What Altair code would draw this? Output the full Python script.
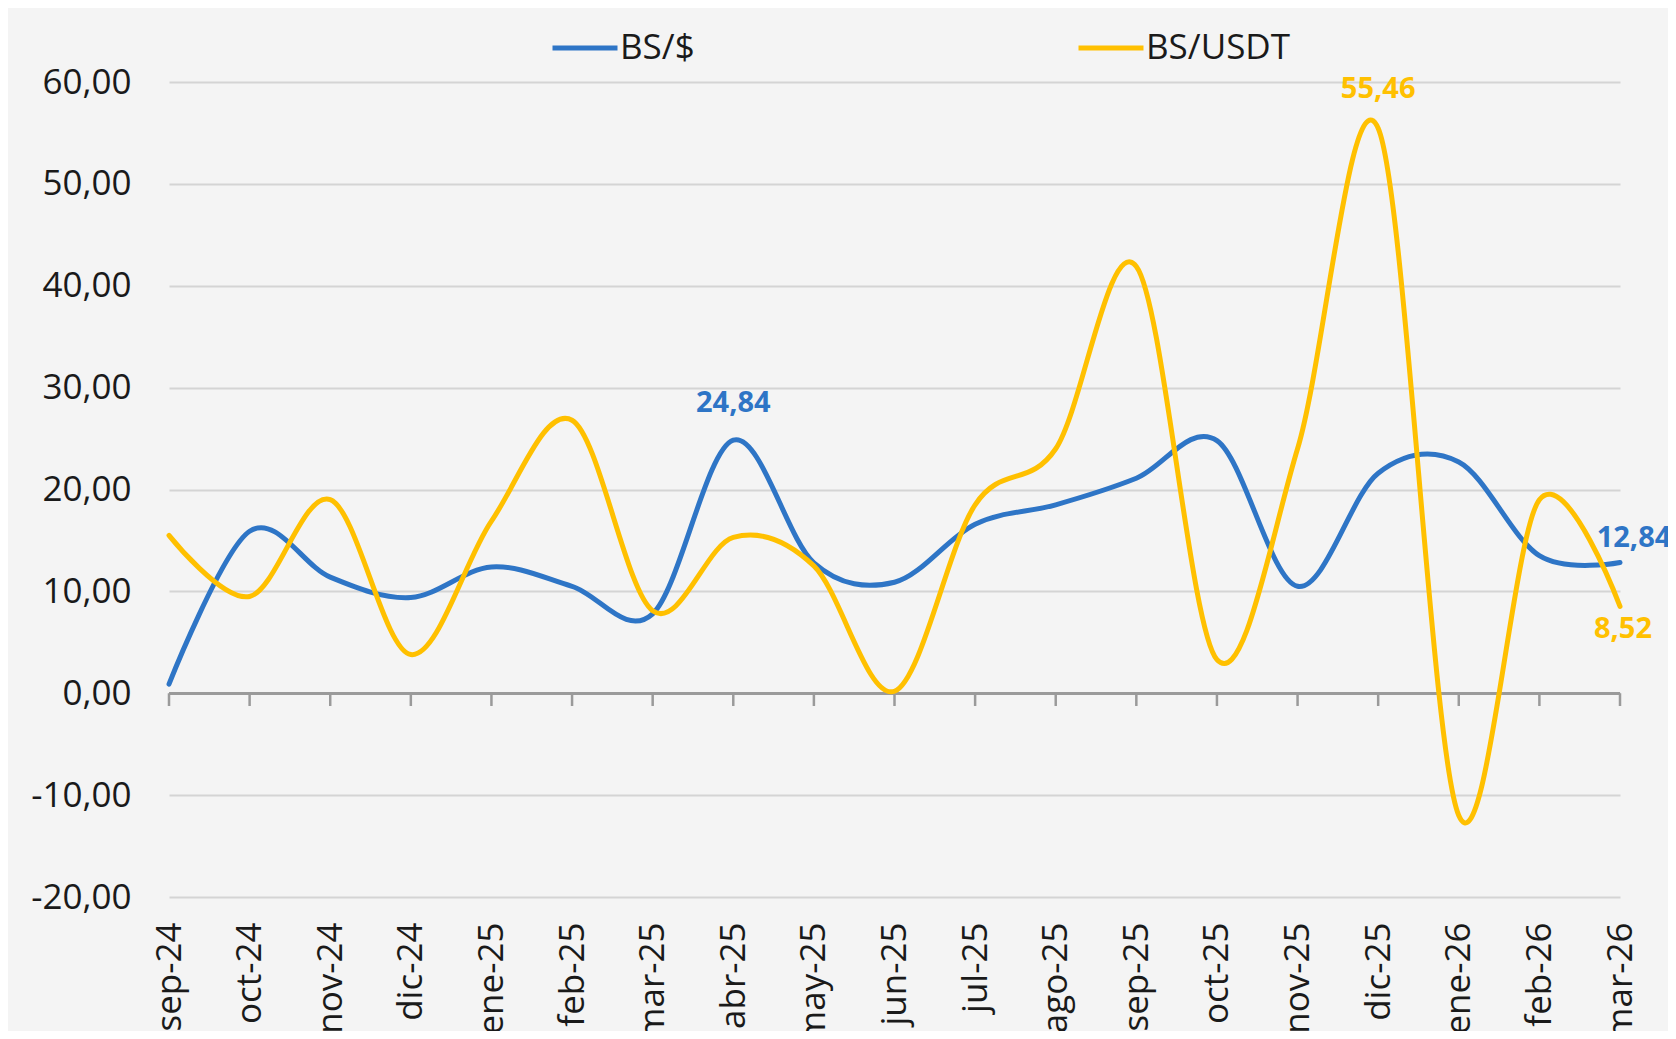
import altair as alt
import pandas as pd

months = ["sep-24", "oct-24", "nov-24", "dic-24", "ene-25", "feb-25", "mar-25",
          "abr-25", "may-25", "jun-25", "jul-25", "ago-25", "sep-25", "oct-25",
          "nov-25", "dic-25", "ene-26", "feb-26", "mar-26"]
bs_usd = [0.9, 15.9, 11.4, 9.4, 12.4, 10.5, 7.8, 24.84, 12.8, 10.9, 16.6, 18.5,
          21.1, 24.8, 10.5, 21.6, 22.7, 13.5, 12.84]
bs_usdt = [15.5, 9.5, 19.0, 3.8, 16.9, 26.8, 8.1, 15.3, 12.5, 0.2, 18.5, 24.0,
           41.9, 3.3, 24.0, 55.46, -12.0, 19.0, 8.52]
series_names = ["BS/$", "BS/USDT"]
series_colors = ["#2E75C6", "#FFC000"]
y_ticks = [-20, -10, 0, 10, 20, 30, 40, 50, 60]

rows = []
for name, vals in zip(series_names, [bs_usd, bs_usdt]):
    for i, (m, v) in enumerate(zip(months, vals)):
        rows.append({"mes": m, "serie": name, "valor": v, "orden": i})
df = pd.DataFrame(rows)
months_df = pd.DataFrame({"mes": months})

FONT = "Open Sans"
x_enc = alt.X("mes:N", sort=months, scale=alt.Scale(type="point", padding=0),
              axis=alt.Axis(title=None, labelAngle=-90, labelAlign="right",
                            labelBaseline="middle", labelPadding=25,
                            labelFontSize=35, labelFont=FONT, labelColor="#1a1a1a",
                            domain=False, ticks=False, grid=False, labelOverlap=False))
y_scale = alt.Scale(domain=[-20, 60], nice=False, zero=False)
y_axis = alt.Axis(title=None, values=y_ticks, domain=False, ticks=False,
                  labelPadding=38, labelFontSize=35, labelFont=FONT,
                  labelColor="#1a1a1a", gridColor="#d4d4d4", gridWidth=2,
                  labelExpr="(datum.value < 0 ? '-' : '') + replace(format(abs(datum.value), '.2f'), '.', ',')")

base = alt.Chart(df)

grid = alt.Chart(months_df).mark_rule(opacity=0).encode(
    x=x_enc,
    y=alt.Y("z:Q", scale=y_scale, axis=y_axis),
).transform_calculate(z="0")

zero_line = alt.Chart(months_df).mark_rule(color="#9a9a9a", strokeWidth=2.5).encode(
    y=alt.datum(0, type="quantitative", scale=y_scale),
)

ticks = alt.Chart(months_df).mark_rule(color="#9a9a9a", strokeWidth=2.5).encode(
    x=alt.X("mes:N", sort=months),
    y=alt.datum(0, type="quantitative"),
    y2=alt.datum(-1.25),
)

lines = base.mark_line(interpolate="cardinal", strokeWidth=5, strokeCap="round").encode(
    x=alt.X("mes:N", sort=months),
    y=alt.Y("valor:Q"),
    color=alt.Color("serie:N", sort=series_names,
                    scale=alt.Scale(domain=series_names, range=series_colors),
                    legend=alt.Legend(title=None, orient="none", direction="horizontal",
                                      legendX=381, legendY=-69, padding=0,
                                      symbolType="stroke", symbolSize=4225,
                                      symbolStrokeWidth=5, labelFontSize=35,
                                      labelFont=FONT, labelColor="#1a1a1a",
                                      labelOffset=0, columnPadding=373)),
    order="orden:Q",
)

label_expr = "replace(format(datum.valor, '.2f'), '.', ',')"

def value_label(month, serie, color, dx, dy):
    return base.mark_text(font=FONT, fontSize=29, fontWeight="bold", color=color,
                          dx=dx, dy=dy, baseline="alphabetic", align="center").encode(
        x=alt.X("mes:N", sort=months),
        y=alt.Y("valor:Q"),
        text=alt.Text("etiqueta:N"),
    ).transform_filter(
        (alt.datum.mes == month) & (alt.datum.serie == serie)
    ).transform_calculate(etiqueta=label_expr)

labels = [
    value_label("abr-25", "BS/$", series_colors[0], 0, -28),
    value_label("dic-25", "BS/USDT", series_colors[1], 0, -30),
    value_label("mar-26", "BS/$", series_colors[0], 14, -15),
    value_label("mar-26", "BS/USDT", series_colors[1], 3, 32),
]

chart = alt.layer(grid, zero_line, ticks, lines, *labels).properties(
    width=1451, height=815,
    autosize=alt.AutoSizeParams(type="none"),
    padding={"left": 161, "top": 74, "right": 48, "bottom": 134},
    background="#f4f4f4",
).configure_view(stroke=None)

chart.save("out.html", embed_options={"renderer": "svg", "actions": False})
